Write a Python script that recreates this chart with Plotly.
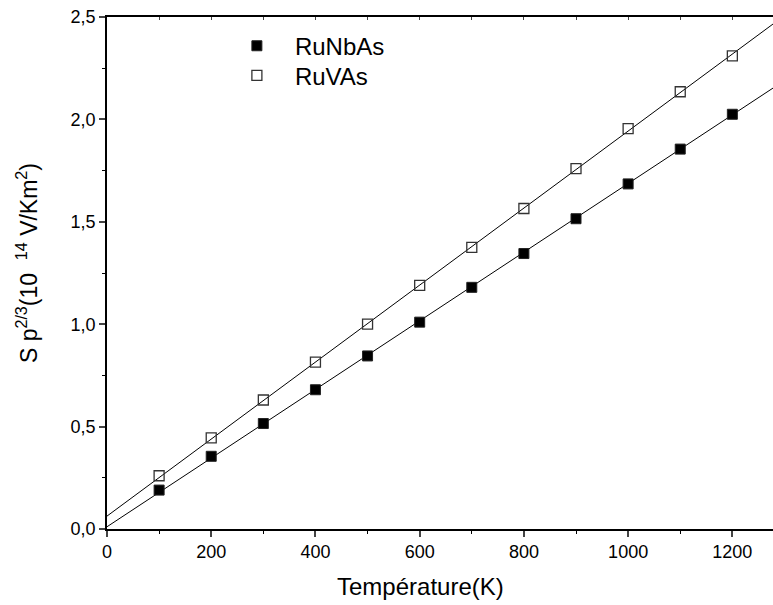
import plotly.graph_objects as go

temps = [100, 200, 300, 400, 500, 600, 700, 800, 900, 1000, 1100, 1200]
ru_nb_as = [0.19, 0.355, 0.515, 0.68, 0.845, 1.01, 1.18, 1.345, 1.515, 1.685, 1.855, 2.025]
ru_v_as = [0.26, 0.445, 0.63, 0.815, 1.0, 1.19, 1.375, 1.565, 1.76, 1.955, 2.135, 2.31]

# linear fit parameters (intercept, slope)
fit_nb = (0.011, 0.001676)
fit_v = (0.063, 0.00188)
x_range = [0, 1278]
y_range = [0, 2.5]

x_title = "Température(K)"
y_title = "S p<sup>2/3</sup>(10\u00a0\u00a0<sup>14</sup>\u00a0V/Km<sup>2</sup>)"

font = "Liberation Sans, Arial, sans-serif"

fig = go.Figure()
for p in (fit_nb, fit_v):
    fig.add_trace(go.Scatter(x=x_range, y=[p[0] + p[1] * x for x in x_range], mode="lines",
                             line=dict(color="black", width=1), showlegend=False, hoverinfo="skip"))
fig.add_trace(go.Scatter(x=temps, y=ru_nb_as, mode="markers", name="RuNbAs", legend="legend",
                         marker=dict(symbol="square", size=10, color="black",
                                     line=dict(color="#222", width=1))))
fig.add_trace(go.Scatter(x=temps, y=ru_v_as, mode="markers", name="RuVAs", legend="legend2",
                         marker=dict(symbol="square-open", size=10, color="#333",
                                     line=dict(width=1.3))))
fig.add_trace(go.Scatter(x=[None], y=[None], xaxis="x2", showlegend=False))

leg = dict(xanchor="left", yanchor="top", bgcolor="rgba(0,0,0,0)",
           font=dict(size=24), itemwidth=66, tracegroupgap=0)

fig.update_layout(
    width=773, height=605,
    margin=dict(l=107, r=0, t=17, b=76),
    paper_bgcolor="white", plot_bgcolor="white",
    separators=", ",
    font=dict(family=font, size=18, color="black"),
    showlegend=True,
    legend=dict(x=0.168, y=0.987, **leg),
    legend2=dict(x=0.168, y=0.929, **leg),
    xaxis=dict(range=x_range, dtick=200, tick0=0, ticks="outside", ticklen=6, tickwidth=1.5,
               showline=True, linewidth=1.5, linecolor="black", showgrid=False, zeroline=False,
               tickfont=dict(size=18),
               minor=dict(dtick=100, ticks="outside", ticklen=3, tickwidth=1.2, tickcolor="black")),
    xaxis2=dict(range=x_range, overlaying="x", side="top", dtick=100, ticks="inside", ticklen=3,
                tickwidth=1, showticklabels=False, showline=True, linewidth=1.5, linecolor="black",
                showgrid=False, zeroline=False),
    yaxis=dict(range=y_range, dtick=0.5, tick0=0, tickformat=".1f", ticks="outside", ticklen=6,
               tickwidth=1.5, showline=True, linewidth=1.5, linecolor="black", showgrid=False,
               zeroline=False, tickfont=dict(size=18),
               minor=dict(dtick=0.25, ticks="outside", ticklen=3, tickwidth=1.2, tickcolor="black")),
    annotations=[
        dict(text=x_title, xref="paper", yref="paper", x=0.47, y=-0.113, xanchor="center",
             yanchor="middle", showarrow=False, font=dict(size=24)),
        dict(text=y_title, xref="paper", yref="paper", x=-0.12, y=0.5195, xanchor="center",
             yanchor="middle", showarrow=False, textangle=-90, font=dict(size=23)),
    ],
)

fig.write_html("out.html")
